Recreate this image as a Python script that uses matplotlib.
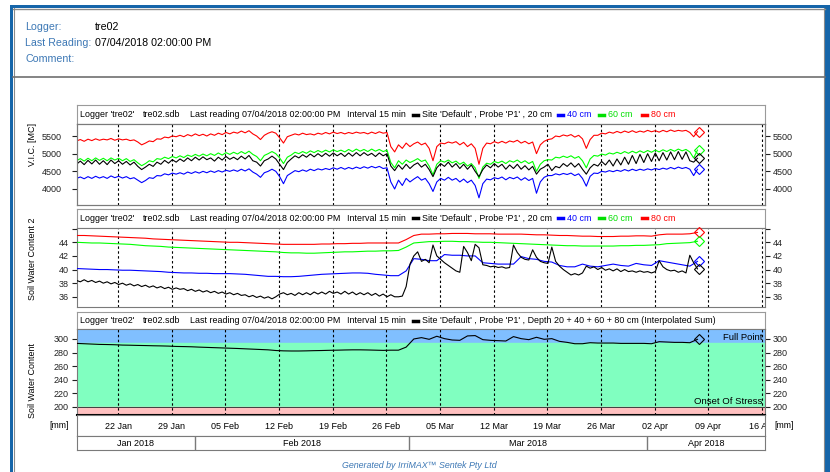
import pandas as pd
import matplotlib
matplotlib.use("Agg")
import matplotlib.pyplot as plt
import matplotlib.dates as mdates
from matplotlib.patches import Rectangle
from matplotlib.lines import Line2D
from matplotlib.transforms import blended_transform_factory

plt.rcParams['font.family'] = ['Liberation Sans', 'DejaVu Sans']

# ---------------------------------------------------------------- data
t_half = pd.date_range("2018-01-16 14:00", "2018-04-07 14:00", freq="12h")
t_day = pd.date_range("2018-01-16 14:00", "2018-04-07 14:00", freq="D")

# V.I.C. [MC], one reading every 12 h
vic_20 = [4700, 4790, 4690, 4810, 4710, 4820, 4700, 4800, 4690, 4820, 4720, 4800, 4700, 4780,
          4680, 4760, 4640, 4550, 4620, 4700, 4640, 4760, 4700, 4810, 4730, 4830, 4760, 4850,
          4780, 4880, 4800, 4900, 4820, 4910, 4830, 4880, 4790, 4900, 4820, 4920, 4840, 4900,
          4830, 4930, 4850, 4950, 4800, 4760, 4650, 4800, 4850, 4930, 4850, 4700, 4550, 4750,
          4850, 4940, 4880, 4970, 4900, 4990, 4910, 5000, 4920, 5010, 4930, 5020, 4940, 5010,
          4920, 5020, 4930, 5030, 4940, 5030, 4950, 5010, 4920, 5020, 4940, 5000, 4650, 4520,
          4680, 4560, 4700, 4580, 4680, 4740, 4620, 4700, 4550, 4350, 4600, 4720, 4640, 4760,
          4620, 4720, 4580, 4700, 4560, 4680, 4500, 4350, 4550, 4680, 4600, 4720, 4620, 4700,
          4560, 4680, 4580, 4700, 4560, 4660, 4540, 4640, 4420, 4560, 4620, 4700, 4520, 4640,
          4600, 4720, 4640, 4740, 4620, 4720, 4560, 4420, 4600, 4700, 4650, 4780, 4680, 4820,
          4650, 4850, 4680, 4900, 4700, 4950, 4720, 4980, 4750, 5000, 4780, 5020, 4800, 5030,
          4820, 5050, 4830, 5060, 4840, 5050, 4800, 4760, 4870]
vic_40 = [4300, 4340, 4290, 4350, 4300, 4360, 4310, 4350, 4300, 4370, 4320, 4360, 4310, 4350,
          4290, 4320, 4250, 4180, 4240, 4320, 4300, 4380, 4370, 4430, 4400, 4450, 4420, 4460,
          4420, 4480, 4440, 4490, 4450, 4500, 4460, 4510, 4470, 4520, 4480, 4530, 4500, 4540,
          4500, 4560, 4510, 4570, 4480, 4420, 4330, 4460, 4500, 4560, 4500, 4350, 4150, 4380,
          4450, 4520, 4490, 4540, 4500, 4560, 4520, 4570, 4540, 4580, 4550, 4600, 4560, 4610,
          4560, 4610, 4570, 4620, 4580, 4630, 4590, 4640, 4600, 4640, 4580, 4600, 4200, 4000,
          4250, 4100, 4300, 4200, 4280, 4350, 4250, 4300, 4150, 3930, 4200, 4300, 4250, 4330,
          4250, 4300, 4200, 4280, 4180, 4250, 4100, 3750, 4150, 4280, 4260, 4320, 4290, 4340,
          4260, 4330, 4290, 4340, 4250, 4320, 4240, 4300, 3880, 4200, 4330, 4380, 4380, 4430,
          4400, 4440, 4410, 4450, 4380, 4430, 4300, 4080, 4360, 4450, 4440, 4500, 4480, 4520,
          4490, 4530, 4500, 4550, 4510, 4560, 4520, 4560, 4530, 4570, 4540, 4580, 4550, 4590,
          4560, 4610, 4570, 4620, 4580, 4610, 4560, 4380, 4560]
vic_60 = [4800, 4860, 4790, 4870, 4800, 4880, 4810, 4870, 4800, 4880, 4820, 4870, 4800, 4860,
          4780, 4830, 4740, 4660, 4720, 4800, 4770, 4860, 4840, 4900, 4860, 4920, 4880, 4940,
          4890, 4960, 4920, 4980, 4930, 4990, 4940, 5000, 4950, 5020, 4960, 5030, 4980, 5040,
          4990, 5060, 5000, 5070, 4980, 4920, 4800, 4950, 5000, 5060, 5000, 4880, 4720, 4900,
          4960, 5040, 5000, 5060, 5010, 5080, 5030, 5090, 5040, 5100, 5050, 5110, 5060, 5100,
          5050, 5120, 5060, 5130, 5070, 5120, 5060, 5130, 5070, 5120, 5060, 5100, 4750, 4600,
          4800, 4700, 4820, 4750, 4800, 4860, 4780, 4820, 4650, 4400, 4700, 4800, 4760, 4820,
          4740, 4790, 4700, 4760, 4650, 4720, 4600, 4300, 4620, 4730, 4700, 4780, 4740, 4790,
          4720, 4800, 4760, 4820, 4740, 4800, 4720, 4780, 4500, 4700, 4800, 4830, 4820, 4900,
          4880, 4930, 4890, 4940, 4870, 4920, 4800, 4600, 4850, 4950, 4930, 4990, 4960, 5020,
          4990, 5040, 5000, 5060, 5010, 5070, 5020, 5080, 5030, 5090, 5040, 5100, 5050, 5110,
          5060, 5120, 5070, 5130, 5080, 5120, 5050, 4880, 5100]
vic_80 = [5360, 5400, 5350, 5410, 5370, 5420, 5380, 5410, 5390, 5430, 5380, 5420, 5390, 5410,
          5370, 5390, 5330, 5250, 5300, 5360, 5340, 5420, 5410, 5470, 5450, 5500, 5480, 5520,
          5480, 5540, 5500, 5560, 5510, 5550, 5500, 5560, 5520, 5580, 5540, 5600, 5560, 5610,
          5580, 5640, 5590, 5650, 5560, 5500, 5400, 5520, 5580, 5620, 5580, 5450, 5300, 5480,
          5520, 5560, 5530, 5580, 5540, 5560, 5530, 5580, 5550, 5600, 5560, 5610, 5570, 5600,
          5560, 5600, 5570, 5610, 5580, 5600, 5560, 5610, 5570, 5620, 5580, 5600, 5200, 5050,
          5250, 5150, 5300, 5200, 5280, 5330, 5250, 5300, 5150, 4800, 5200, 5300, 5280, 5330,
          5300, 5340, 5250, 5320, 5200, 5280, 5150, 4700, 5150, 5300, 5280, 5340, 5300, 5350,
          5300, 5360, 5330, 5380, 5300, 5350, 5280, 5330, 5000, 5250, 5350, 5400, 5420, 5500,
          5480, 5530, 5500, 5540, 5470, 5520, 5420, 5150, 5400, 5520, 5520, 5580, 5560, 5610,
          5580, 5630, 5590, 5640, 5600, 5650, 5600, 5640, 5610, 5660, 5620, 5650, 5610, 5660,
          5620, 5670, 5630, 5660, 5640, 5660, 5600, 5480, 5620]

# Soil Water Content 2 (20 cm every 12 h, others daily)
swc_20 = [38.4, 38.2, 38.5, 38.2, 38.4, 38.1, 38.3, 38.0, 38.2, 37.9, 38.1, 37.8, 38.0, 37.7,
          37.9, 37.6, 37.8, 37.5, 37.7, 37.4, 37.6, 37.3, 37.5, 37.2, 37.4, 37.1, 37.3, 37.1,
          37.2, 36.9, 37.1, 36.8, 37.0, 36.7, 36.9, 36.6, 36.8, 36.5, 36.7, 36.4, 36.6, 36.3,
          36.5, 36.2, 36.3, 36.0, 36.2, 35.9, 36.1, 35.8, 36.0, 35.7, 36.0, 36.4, 36.6, 36.3,
          36.5, 36.2, 36.6, 36.3, 36.6, 36.3, 36.7, 36.4, 36.7, 36.4, 36.8, 36.5, 36.7, 36.4,
          36.8, 36.4, 36.7, 36.3, 36.6, 36.3, 36.6, 36.2, 36.5, 36.1, 36.4, 36.0, 36.3, 36.0,
          36.0, 36.1, 37.5, 40.8, 42.0, 42.6, 41.2, 41.5, 41.0, 43.6, 42.0, 41.5, 41.0, 40.6,
          40.2, 39.8, 39.6, 43.4, 42.5, 41.3, 43.7, 43.2, 40.7, 40.6, 40.4, 40.5, 40.3, 40.4,
          40.2, 40.3, 43.6, 42.5, 41.8, 41.5, 41.4, 42.9, 41.8, 41.2, 41.0, 40.9, 43.3, 41.2,
          40.5, 40.0, 39.6, 39.2, 39.4, 39.2, 39.5, 40.5, 40.2, 40.4, 40.0, 40.3, 39.9, 40.1,
          39.8, 40.1, 39.7, 40.0, 39.7, 39.8, 39.6, 39.8, 39.6, 39.7, 39.5, 39.7, 41.3, 40.4,
          40.0, 39.8, 39.9, 39.6, 39.8, 39.5, 42.1, 41.0, 40.1]
swc_40 = [40.15, 40.1, 40.05, 40.0, 40.0, 39.95, 39.9,
          39.9, 39.85, 39.8, 39.75, 39.7, 39.6, 39.55,
          39.5, 39.5, 39.45, 39.45, 39.4, 39.4, 39.4,
          39.35, 39.3, 39.2, 39.1, 39.0, 39.0, 38.95,
          38.95, 39.0, 39.1, 39.2, 39.3, 39.35, 39.4,
          39.45, 39.5, 39.5, 39.45, 39.3, 39.2, 39.1,
          39.1, 39.8, 41.6, 41.5, 41.3, 41.3, 42.2,
          42.1, 42.1, 42.0, 42.0, 41.0, 40.9, 40.8,
          40.8, 40.8, 41.9, 41.6, 41.5, 41.2, 41.1,
          40.6, 40.4, 40.4, 40.8, 40.5, 40.4, 40.6,
          40.8, 40.6, 40.5, 40.9, 40.7, 40.6, 41.3,
          41.1, 40.9, 40.7, 40.5, 41.2]
swc_60 = [44.0, 43.95, 43.9, 43.9, 43.85, 43.8, 43.75,
          43.7, 43.6, 43.5, 43.45, 43.4, 43.3, 43.25,
          43.2, 43.15, 43.1, 43.05, 43.0, 42.95, 42.9,
          42.85, 42.8, 42.75, 42.7, 42.65, 42.6, 42.5,
          42.45, 42.45, 42.4, 42.4, 42.45, 42.5, 42.55,
          42.6, 42.6, 42.65, 42.7, 42.7, 42.75, 42.75,
          42.8, 43.3, 43.9, 44.0, 44.1, 44.1, 44.15,
          44.15, 44.1, 44.1, 44.05, 44.0, 44.0, 43.95,
          43.9, 43.85, 43.8, 43.75, 43.7, 43.65, 43.6,
          43.55, 43.5, 43.5, 43.45, 43.45, 43.45, 43.45,
          43.45, 43.5, 43.5, 43.55, 43.55, 43.6, 43.65,
          43.8, 43.85, 43.9, 43.95, 44.15]
swc_80 = [45.0, 45.0, 44.95, 44.9, 44.85, 44.8, 44.75,
          44.7, 44.65, 44.6, 44.5, 44.45, 44.4, 44.35,
          44.3, 44.25, 44.2, 44.15, 44.1, 44.05, 44.0,
          44.0, 43.95, 43.9, 43.85, 43.8, 43.75, 43.7,
          43.7, 43.7, 43.7, 43.7, 43.75, 43.75, 43.8,
          43.8, 43.85, 43.85, 43.9, 43.9, 43.9, 43.9,
          43.9, 44.4, 45.0, 45.2, 45.2, 45.25, 45.25,
          45.3, 45.3, 45.3, 45.25, 45.25, 45.25, 45.2,
          45.2, 45.2, 45.2, 45.15, 45.1, 45.1, 45.05,
          45.0, 45.0, 44.95, 44.9, 44.9, 44.85, 44.85,
          44.85, 44.9, 44.9, 44.95, 44.95, 44.9, 45.1,
          45.2, 45.2, 45.2, 45.25, 45.45]

# Soil Water Content [mm], interpolated sum, daily
swc_sum = [293.5, 293.0, 292.5, 292.0, 291.8, 291.5, 291.0,
           290.8, 290.5, 290.3, 290.0, 289.8, 289.5, 289.0,
           288.8, 288.5, 288.0, 287.6, 287.2, 286.8, 286.4,
           286.0, 285.5, 285.0, 284.5, 284.0, 283.0, 282.5,
           282.3, 282.3, 282.5, 282.8, 283.0, 283.3, 283.5,
           283.8, 284.0, 284.0, 283.8, 283.5, 283.2, 283.5,
           283.5, 288.0, 300.0, 302.0, 299.5, 304.0, 300.5,
           298.5, 298.0, 304.5, 305.0, 299.0, 298.0, 297.5,
           297.0, 303.5, 300.5, 299.0, 302.5, 299.5, 300.5,
           296.5, 295.0, 293.0, 293.0, 294.5, 294.0, 294.0,
           294.0, 293.5, 293.5, 293.5, 293.5, 293.0, 296.0,
           295.5, 295.0, 295.0, 294.5, 299.5]
full_point = 294
onset_of_stress = 200

week_ticks = pd.date_range("2018-01-22", "2018-04-16", freq="7D")
month_starts = pd.to_datetime(["2018-02-01", "2018-03-01", "2018-04-01"])
month_labels = ["Jan 2018", "Feb 2018", "Mar 2018", "Apr 2018"]
x_lim = (pd.Timestamp("2018-01-16 15:36"), pd.Timestamp("2018-04-16 09:24"))

# ---------------------------------------------------------------- layout helpers
W, H = 830, 472
fig = plt.figure(figsize=(W / 100, H / 100), dpi=100)
fig.patch.set_facecolor("white")


def fx(px):
    return px / W


def fy(py):
    return 1 - py / H


def box(x0, y0, x1, y1):
    return [fx(x0), fy(y1), fx(x1) - fx(x0), fy(y0) - fy(y1)]


def rect(x0, y0, x1, y1, color):
    fig.add_artist(Rectangle((fx(x0), fy(y1)), fx(x1) - fx(x0), fy(y0) - fy(y1),
                             transform=fig.transFigure, color=color, lw=0))


def hline(x0, x1, y, color, lw=1.0):
    fig.add_artist(Line2D([fx(x0), fx(x1)], [fy(y), fy(y)], transform=fig.transFigure,
                          color=color, lw=lw))


def vline(x, y0, y1, color, lw=1.0):
    fig.add_artist(Line2D([fx(x), fx(x)], [fy(y0), fy(y1)], transform=fig.transFigure,
                          color=color, lw=lw))


# outer report frame
blue_frame = "#1565a9"
rect(10, 5, 830, 8, blue_frame)
rect(10, 5, 13, 472, blue_frame)
rect(825, 5, 830, 472, blue_frame)
hline(13, 825, 8.7, "#8a8a8a", 1.0)
vline(13.6, 8, 472, "#8a8a8a", 0.8)
vline(824.4, 8, 472, "#8a8a8a", 0.8)
hline(13, 825, 77, "#707070", 1.2)

# header
label_col = "#3d78b5"
for y, lab, val in [(27, "Logger:", "tre02"),
                    (43, "Last Reading:", "07/04/2018 02:00:00 PM"),
                    (59, "Comment:", "")]:
    fig.text(fx(25), fy(y), lab, color=label_col, fontsize=7.7, va="center")
    fig.text(fx(95), fy(y), val, color="black", fontsize=7.7, va="center")

fig.text(fx(419), fy(466), "Generated by IrriMAX\u2122 Sentek Pty Ltd", color=label_col,
         fontsize=6.4, style="italic", ha="center", va="center")

xl = [mdates.date2num(v) for v in x_lim]
frame_col = "#7a7a7a"
fs_tick = 6.5
fs_title = 6.4
ms_end = 5.6


def title_strip(y0, y1, tail, legend=True):
    ax = fig.add_axes(box(77, y0, 765, y1))
    ax.set_xticks([])
    ax.set_yticks([])
    for s in ax.spines.values():
        s.set_color("#9a9a9a")
    yc = (y0 + y1) / 2
    for x, txt in [(80, "Logger 'tre02'"), (143, "tre02.sdb"),
                   (190, "Last reading 07/04/2018 02:00:00 PM"), (347, "Interval 15 min"),
                   (422, tail)]:
        fig.text(fx(x), fy(yc), txt, fontsize=fs_title, va="center")
    hline(413, 418, yc, "black", 2.5)
    if legend:
        for x0, col, txt in [(558, "#0000ff", "40 cm"), (599, "#00e000", "60 cm"),
                             (642, "#ff0000", "80 cm")]:
            hline(x0, x0 + 5, yc, col, 2.5)
            fig.text(fx(x0 + 9), fy(yc), txt, fontsize=fs_title, va="center", color=col)


def plot_axes(y0, y1):
    ax = fig.add_axes(box(77, y0, 765, y1))
    ax.set_xlim(xl)
    ax.set_xticks([])
    for s in ax.spines.values():
        s.set_color(frame_col)
    for d in week_ticks:
        ax.axvline(mdates.date2num(d), color="black", lw=0.8, ls=(0, (2.2, 2.2)), zorder=1)
    ax.tick_params(axis="y", labelsize=fs_tick, colors="#222222", right=True, labelright=True,
                   length=3.6, pad=2.2, width=0.8)
    return ax


def end_marker(ax, x, y, col):
    ax.plot(x + 0.15, y, marker="D", ms=ms_end, mfc="none", mec=col, mew=0.8,
            zorder=4, clip_on=False)


xh = mdates.date2num(t_half)
xd = mdates.date2num(t_day)

# ---------------------------------------------------------------- panel 1
title_strip(105, 124, "Site 'Default' , Probe 'P1' , 20 cm")
ax1 = plot_axes(124, 205)
for ys, col in [(vic_80, "#ff0000"), (vic_60, "#00ff00"), (vic_20, "black"), (vic_40, "#0000ff")]:
    ax1.plot(xh, ys, color=col, lw=0.8, zorder=3)
    end_marker(ax1, xh[-1], ys[-1], col)
ax1.set_ylim(3547, 5840)
ax1.set_yticks([4000, 4500, 5000, 5500])
# left labels without tick marks, further from the frame; right side on a twin
ax1.tick_params(axis="y", left=False, right=False, labelright=False, pad=7.5)
ax1r = ax1.twinx()
ax1r.set_ylim(ax1.get_ylim())
ax1r.set_yticks([4000, 4500, 5000, 5500])
ax1r.tick_params(axis="y", labelsize=fs_tick, colors="#222222", length=3.6, pad=2.2, width=0.8)
for s in ax1r.spines.values():
    s.set_color(frame_col)

# ---------------------------------------------------------------- panel 2
title_strip(209, 228, "Site 'Default' , Probe 'P1' , 20 cm")
ax2 = plot_axes(228, 307)
ax2.plot(xd, swc_80, color="#ff0000", lw=0.8, zorder=3)
ax2.plot(xd, swc_60, color="#00ff00", lw=0.8, zorder=3)
ax2.plot(xd, swc_40, color="#0000ff", lw=0.8, zorder=3)
ax2.plot(xh, swc_20, color="black", lw=0.8, zorder=3)
for xs, ys, col in [(xd, swc_80, "#ff0000"), (xd, swc_60, "#00ff00"),
                    (xd, swc_40, "#0000ff"), (xh, swc_20, "black")]:
    end_marker(ax2, xs[-1], ys[-1], col)
ax2.set_ylim(34.5, 46.1)
ax2.set_yticks([36, 38, 40, 42, 44, 46])
ax2.set_yticklabels(["36", "38", "40", "42", "44", ""])

# ---------------------------------------------------------------- panel 3
title_strip(312, 329, "Site 'Default' , Probe 'P1' , Depth 20 + 40 + 60 + 80 cm (Interpolated Sum)",
            legend=False)
ax3 = plot_axes(329, 415)
ax3.axhspan(full_point, 330, color="#80bfff", zorder=0)
ax3.axhspan(onset_of_stress, full_point, color="#80ffc0", zorder=0)
ax3.axhspan(150, onset_of_stress, color="#ffc0c0", zorder=0)
ax3.axhline(onset_of_stress, color="#404040", lw=0.7, zorder=2)
ax3.plot(xd, swc_sum, color="black", lw=0.8, zorder=3)
end_marker(ax3, xd[-1], swc_sum[-1], "black")
ax3.set_ylim(188, 314.7)
ax3.set_yticks([200, 220, 240, 260, 280, 300])
ax3.spines["bottom"].set_color("black")
ax3.spines["bottom"].set_linewidth(1.5)
tr = blended_transform_factory(ax3.transAxes, fig.transFigure)
ax3.text(0.996, fy(338), "Full Point", transform=tr, ha="right", va="center", fontsize=6.8)
ax3.text(0.996, fy(401), "Onset Of Stress", transform=tr, ha="right", va="center", fontsize=6.8)

# date strip
axd = fig.add_axes(box(77, 415, 765, 436))
axd.set_xlim(xl)
axd.set_ylim(0, 1)
axd.set_xticks([])
axd.set_yticks([])
for s in axd.spines.values():
    s.set_color(frame_col)
for d in week_ticks:
    axd.text(mdates.date2num(d), 0.45, d.strftime("%d %b"), ha="center", va="center",
             fontsize=fs_tick, clip_on=True)

# month strip
axm = fig.add_axes(box(77, 436, 765, 450))
axm.set_xlim(xl)
axm.set_ylim(0, 1)
axm.set_xticks([])
axm.set_yticks([])
for s in axm.spines.values():
    s.set_color(frame_col)
edges = [xl[0]] + [mdates.date2num(m) for m in month_starts] + [xl[1]]
for m in month_starts:
    axm.axvline(mdates.date2num(m), color=frame_col, lw=1)
for i, lab in enumerate(month_labels):
    axm.text((edges[i] + edges[i + 1]) / 2, 0.5, lab, ha="center", va="center", fontsize=fs_tick)

fig.text(fx(59), fy(425), "[mm]", ha="center", va="center", fontsize=6.2)
fig.text(fx(784), fy(425), "[mm]", ha="center", va="center", fontsize=6.2)

# y labels
fig.text(fx(32), fy(144), "V.I.C. [MC]", rotation=90, ha="center", va="center", fontsize=6.4)
fig.text(fx(32), fy(259), "Soil Water Content 2", rotation=90, ha="center", va="center",
         fontsize=6.4)
fig.text(fx(32), fy(381), "Soil Water Content", rotation=90, ha="center", va="center",
         fontsize=6.4)

fig.savefig("out.png", dpi=100)
